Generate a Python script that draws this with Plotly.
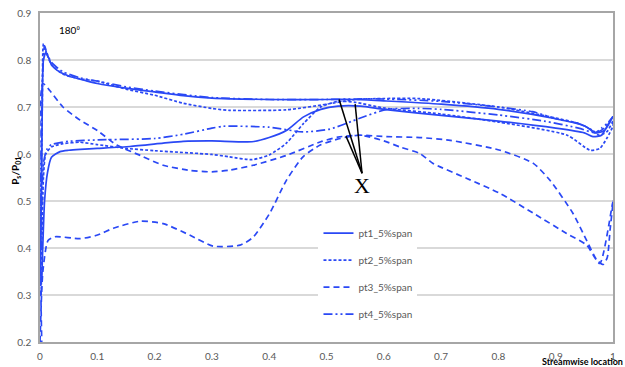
import plotly.graph_objects as go

# ---------------- data ----------------
pt1_up_x = [0.0, 0.003, 0.006, 0.01, 0.015, 0.02, 0.03, 0.05, 0.08, 0.1, 0.15, 0.2, 0.25, 0.3, 0.4, 0.5, 0.55, 0.6, 0.7, 0.8, 0.9, 0.95, 0.97, 0.985, 1.0]
pt1_up_y = [0.33, 0.55, 0.80, 0.815, 0.805, 0.79, 0.778, 0.766, 0.756, 0.75, 0.74, 0.732, 0.724, 0.719, 0.716, 0.716, 0.716, 0.713, 0.706, 0.695, 0.675, 0.66, 0.645, 0.65, 0.68]
pt1_lo_x = [0.003, 0.008, 0.013, 0.02, 0.035, 0.05, 0.07, 0.1, 0.157, 0.215, 0.25, 0.3, 0.37, 0.4, 0.43, 0.46, 0.49, 0.52, 0.56, 0.6, 0.66, 0.8, 0.9, 0.95, 0.965, 0.98, 0.99, 1.0]
pt1_lo_y = [0.33, 0.50, 0.56, 0.593, 0.605, 0.608, 0.61, 0.612, 0.616, 0.623, 0.627, 0.628, 0.626, 0.635, 0.65, 0.679, 0.695, 0.702, 0.702, 0.695, 0.687, 0.67, 0.655, 0.645, 0.637, 0.64, 0.66, 0.68]

pt2_up_x = [0.0, 0.004, 0.006, 0.01, 0.02, 0.04, 0.07, 0.1, 0.15, 0.2, 0.25, 0.3, 0.33, 0.43, 0.5, 0.55, 0.6, 0.66, 0.8, 0.89, 0.94, 0.965, 0.975, 0.99, 1.0]
pt2_up_y = [0.35, 0.70, 0.835, 0.82, 0.79, 0.77, 0.76, 0.755, 0.738, 0.725, 0.708, 0.697, 0.693, 0.694, 0.706, 0.716, 0.718, 0.718, 0.70, 0.679, 0.665, 0.65, 0.64, 0.648, 0.67]
pt2_lo_x = [0.002, 0.006, 0.01, 0.02, 0.04, 0.07, 0.1, 0.15, 0.2, 0.3, 0.33, 0.37, 0.4, 0.43, 0.46, 0.49, 0.52, 0.55, 0.6, 0.7, 0.8, 0.92, 0.96, 0.977, 0.99, 1.0]
pt2_lo_y = [0.30, 0.55, 0.60, 0.615, 0.622, 0.625, 0.62, 0.612, 0.607, 0.599, 0.594, 0.588, 0.598, 0.623, 0.665, 0.70, 0.712, 0.71, 0.698, 0.685, 0.668, 0.64, 0.608, 0.612, 0.635, 0.66]

pt3_a_x = [0.003, 0.005, 0.017, 0.04, 0.07, 0.1, 0.134, 0.175, 0.215, 0.262, 0.3, 0.332, 0.372, 0.43, 0.49, 0.52, 0.558, 0.605, 0.663, 0.716, 0.803, 0.861, 0.89, 0.93, 0.954, 0.972, 0.983, 0.99, 0.995, 1.0]
pt3_a_y = [0.20, 0.75, 0.735, 0.70, 0.672, 0.65, 0.619, 0.597, 0.576, 0.565, 0.562, 0.566, 0.576, 0.597, 0.626, 0.636, 0.64, 0.637, 0.635, 0.629, 0.608, 0.58, 0.544, 0.474, 0.416, 0.374, 0.365, 0.38, 0.44, 0.50]
pt3_b_x = [0.0, 0.005, 0.014, 0.026, 0.07, 0.099, 0.128, 0.175, 0.215, 0.262, 0.302, 0.349, 0.372, 0.401, 0.43, 0.459, 0.489, 0.524, 0.558, 0.6, 0.628, 0.663, 0.686, 0.745, 0.803, 0.861, 0.919, 0.954, 0.977]
pt3_b_y = [0.20, 0.35, 0.416, 0.424, 0.42, 0.427, 0.442, 0.457, 0.452, 0.427, 0.404, 0.406, 0.423, 0.474, 0.544, 0.594, 0.619, 0.633, 0.64, 0.628, 0.615, 0.601, 0.58, 0.548, 0.516, 0.474, 0.431, 0.406, 0.367]

pt4_up_x = [0.0, 0.004, 0.008, 0.012, 0.02, 0.04, 0.07, 0.1, 0.15, 0.2, 0.3, 0.4, 0.5, 0.55, 0.6, 0.7, 0.8, 0.86, 0.9, 0.94, 0.957, 0.968, 0.98, 0.99, 1.0]
pt4_up_y = [0.40, 0.75, 0.83, 0.815, 0.795, 0.775, 0.762, 0.755, 0.743, 0.734, 0.72, 0.716, 0.716, 0.717, 0.717, 0.712, 0.70, 0.69, 0.675, 0.665, 0.655, 0.645, 0.655, 0.665, 0.68]
pt4_lo_x = [0.002, 0.006, 0.012, 0.02, 0.05, 0.1, 0.2, 0.25, 0.3, 0.32, 0.4, 0.459, 0.506, 0.558, 0.605, 0.66, 0.7, 0.8, 0.88, 0.94, 0.97, 0.99, 1.0]
pt4_lo_y = [0.40, 0.58, 0.61, 0.62, 0.627, 0.63, 0.633, 0.642, 0.655, 0.659, 0.657, 0.647, 0.653, 0.676, 0.695, 0.697, 0.695, 0.683, 0.67, 0.655, 0.645, 0.66, 0.68]

series_names = ["pt1_5%span", "pt2_5%span", "pt3_5%span", "pt4_5%span"]
x_ticks = [0, 0.1, 0.2, 0.3, 0.4, 0.5, 0.6, 0.7, 0.8, 0.9, 1]
x_tick_text = ["0", "0.1", "0.2", "0.3", "0.4", "0.5", "0.6", "0.7", "0.8", "0.9", "1"]
y_ticks = [0.2, 0.3, 0.4, 0.5, 0.6, 0.7, 0.8, 0.9]
y_tick_text = ["0.2", "0.3", "0.4", "0.5", "0.6", "0.7", "0.8", "0.9"]

# pointer lines for the "X" label (apex, then three targets)
pointer_apex = (0.562, 0.559)
pointer_targets = [(0.522, 0.716), (0.550, 0.706), (0.534, 0.638)]

# ---------------- figure ----------------
BLUE = "#2a48f5"
dashes = ["solid", "3px,2px", "6px,4px", "9px,3px,2px,3px,2px,3px"]

loops = [
    (pt1_up_x + pt1_lo_x[::-1], pt1_up_y + pt1_lo_y[::-1]),
    (pt2_up_x + pt2_lo_x[::-1], pt2_up_y + pt2_lo_y[::-1]),
    (pt3_b_x + pt3_a_x[::-1], pt3_b_y + pt3_a_y[::-1]),
    (pt4_up_x + pt4_lo_x[::-1], pt4_up_y + pt4_lo_y[::-1]),
]

fig = go.Figure()
for name, (xs, ys), d in zip(series_names, loops, dashes):
    fig.add_trace(go.Scatter(
        x=xs, y=ys, mode="lines", name=name, legendgroup=name,
        line=dict(color=BLUE, width=1.7, dash=d, shape="spline", smoothing=0.6),
    ))

for tx, ty in pointer_targets:
    fig.add_shape(type="line", x0=pointer_apex[0], y0=pointer_apex[1], x1=tx, y1=ty,
                  xref="x", yref="y", line=dict(color="black", width=1.5))

fig.add_annotation(x=pointer_apex[0], y=pointer_apex[1], xref="x", yref="y",
                   text="X", showarrow=False, yanchor="top", xanchor="center", yshift=2,
                   font=dict(family="Liberation Serif", size=22, color="black"))
fig.add_annotation(x=0.03, y=0.863, xref="x", yref="y", text="180⁰", showarrow=False,
                   xanchor="left", yanchor="middle",
                   font=dict(family="Lato", size=10, color="black"))
fig.add_annotation(x=1.0, y=-0.036, xref="paper", yref="paper", text="<b>Streamwise location</b>",
                   showarrow=False, xanchor="right", yanchor="top", xshift=12,
                   font=dict(family="Lato", size=9, color="black"))
fig.add_annotation(x=-0.042, y=0.52, xref="paper", yref="paper",
                   text="<b>P<sub>s</sub>/P<sub>01</sub></b>", textangle=-90,
                   showarrow=False, xanchor="center", yanchor="middle",
                   font=dict(family="Lato", size=10, color="black"))

fig.update_layout(
    width=625, height=367,
    margin=dict(l=40, r=12, t=13, b=25),
    paper_bgcolor="white", plot_bgcolor="white",
    font=dict(family="Lato", size=10, color="#595959"),
    showlegend=True,
    legend=dict(x=0.486, y=0.375, xanchor="left", yanchor="top", bgcolor="white",
                font=dict(size=10, color="#595959"), tracegroupgap=8, itemwidth=30),
    xaxis=dict(range=[0, 1], tickvals=x_ticks, ticktext=x_tick_text, showgrid=False,
               showline=True, linecolor="#a6a6a6", linewidth=1.5, mirror=True,
               ticks="", zeroline=False, ticklabelstandoff=4, automargin=False,
               tickfont=dict(size=10, color="#595959")),
    yaxis=dict(range=[0.2, 0.9], tickvals=y_ticks, ticktext=y_tick_text, showgrid=True,
               gridcolor="#d9d9d9", gridwidth=1.5, showline=True, linecolor="#a6a6a6",
               linewidth=1.5, mirror=True, ticks="", zeroline=False, ticklabelstandoff=5,
               automargin=False, tickfont=dict(size=10, color="#595959")),
)

fig.write_html("out.html")
